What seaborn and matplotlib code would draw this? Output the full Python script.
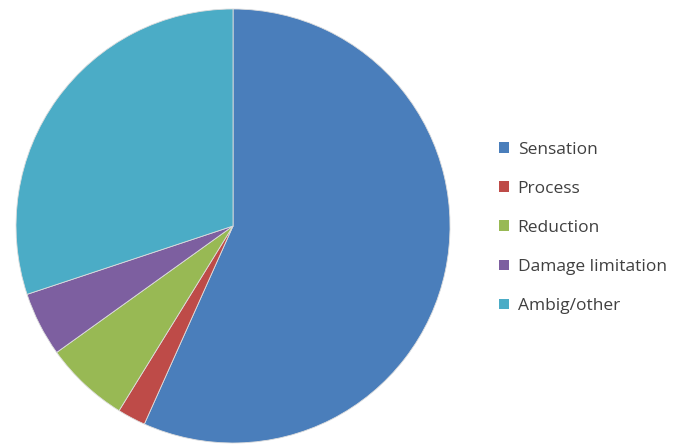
import matplotlib
matplotlib.use("Agg")
import matplotlib.pyplot as plt
from matplotlib.patches import Patch
import seaborn as sns

# data (percent of whole)
labels = ["Sensation", "Process", "Reduction", "Damage limitation", "Ambig/other"]
shares = [56.7, 2.1, 6.3, 4.8, 30.1]
colors = ["#4A7EBB", "#BE4B48", "#98B954", "#7D5FA0", "#4BACC6"]

sns.set_theme(style="white")
plt.rcParams["font.family"] = ["Open Sans", "DejaVu Sans"]

fig = plt.figure(figsize=(6.93, 4.45), dpi=100)
ax = fig.add_axes([0.0231, 0.0045, 0.6263, 0.9753])

pal = sns.color_palette(colors)
wedges, _ = ax.pie(shares, colors=pal, startangle=90, counterclock=False,
                   radius=1.0, wedgeprops=dict(linewidth=0.6, edgecolor="#dddddd"))
ax.set_xlim(-1, 1)
ax.set_ylim(-1, 1)
ax.set_aspect("equal")
ax.axis("off")

handles = [Patch(facecolor=c, edgecolor="none") for c in pal]
fig.legend(handles, labels, loc="center left", bbox_to_anchor=(0.698, 0.488),
           frameon=False, fontsize=12.5, handlelength=0.55, handleheight=0.55,
           handletextpad=0.5, labelspacing=1.33, labelcolor="#404040")

fig.savefig("out.png", dpi=100)
